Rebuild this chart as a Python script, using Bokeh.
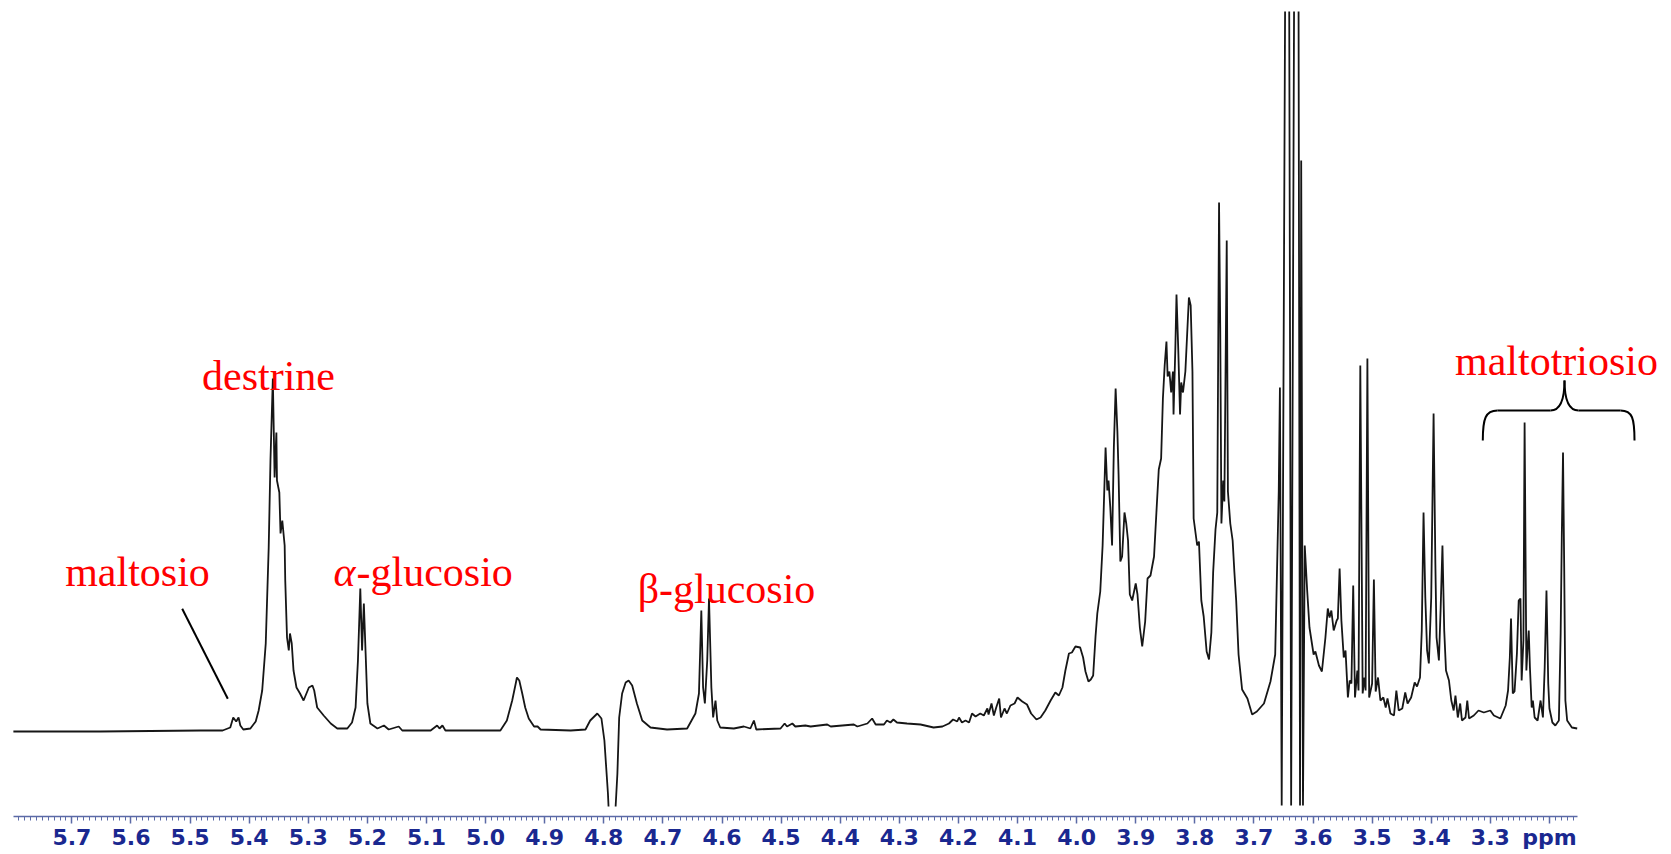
from bokeh.plotting import figure
from bokeh.models import Range1d, FixedTicker, Label
from bokeh.embed import file_html
from bokeh.resources import INLINE

NaN = float("nan")

# ---------------- data ----------------
# chemical shift (ppm) and signal intensity (arbitrary units, baseline = 0)
# NaN marks the part of the water signal that is clipped off in the original
ppm = [
    5.799, 5.652, 5.482, 5.445, 5.432, 5.427, 5.422, 5.418, 5.415, 5.410,
    5.398, 5.389, 5.384, 5.378, 5.372, 5.367, 5.364, 5.360, 5.357, 5.354,
    5.353, 5.349, 5.347, 5.344, 5.340, 5.339, 5.336, 5.333, 5.331, 5.328,
    5.325, 5.320, 5.314, 5.308, 5.299, 5.293, 5.290, 5.285, 5.274, 5.262,
    5.251, 5.234, 5.226, 5.220, 5.216, 5.212, 5.209, 5.206, 5.203, 5.200,
    5.195, 5.183, 5.172, 5.164, 5.147, 5.141, 5.093, 5.082, 5.078, 5.073,
    5.068, 4.975, 4.964, 4.955, 4.949, 4.947, 4.943, 4.938, 4.933, 4.927,
    4.918, 4.912, 4.907, 4.856, 4.831, 4.823, 4.811, 4.804, 4.799, 4.793,
    4.792, 4.786, 4.780, 4.777, 4.774, 4.769, 4.763, 4.758, 4.752, 4.744, 4.735,
    4.721, 4.693, 4.659, 4.645, 4.639, 4.635, 4.632, 4.629, 4.625, 4.622,
    4.618, 4.615, 4.611, 4.608, 4.603, 4.580, 4.563, 4.552, 4.546, 4.542,
    4.501, 4.494, 4.490, 4.481, 4.476, 4.459, 4.450, 4.422, 4.416, 4.377,
    4.371, 4.354, 4.346, 4.340, 4.326, 4.321, 4.315, 4.310, 4.304, 4.287,
    4.264, 4.242, 4.227, 4.216, 4.209, 4.202, 4.199, 4.194, 4.188, 4.182,
    4.177, 4.171, 4.163, 4.157, 4.151, 4.149, 4.144, 4.140, 4.136, 4.131,
    4.128, 4.122, 4.118, 4.112, 4.105, 4.100, 4.092, 4.084, 4.077, 4.068,
    4.061, 4.053, 4.044, 4.036, 4.030, 4.024, 4.019, 4.013, 4.008, 4.002,
    3.994, 3.989, 3.985, 3.980, 3.976, 3.972, 3.968, 3.965, 3.960, 3.956,
    3.951, 3.948, 3.946, 3.943, 3.940, 3.937, 3.934, 3.931, 3.929, 3.926,
    3.923, 3.919, 3.916, 3.913, 3.910, 3.906, 3.900, 3.897, 3.893, 3.889,
    3.884, 3.880, 3.875, 3.869, 3.865, 3.861, 3.857, 3.854, 3.851, 3.848,
    3.846, 3.843, 3.840, 3.837, 3.836, 3.833, 3.831, 3.828, 3.825, 3.823,
    3.820, 3.816, 3.810, 3.807, 3.804, 3.802, 3.796, 3.793, 3.789, 3.785,
    3.780, 3.776, 3.772, 3.769, 3.765, 3.762, 3.759, 3.757, 3.755, 3.752,
    3.750, 3.746, 3.744, 3.740, 3.736, 3.733, 3.730, 3.726, 3.720, 3.711,
    3.703, 3.695, 3.683, 3.672, 3.664, 3.658, 3.656, 3.653, 3.646, 3.641,
    3.637, 3.631, 3.625, 3.622, 3.620, 3.617, 3.614, 3.610, 3.606, 3.599,
    3.596, 3.590, 3.585, 3.579, 3.575, 3.572, 3.569, 3.565, 3.560, 3.558,
    3.555, 3.552, 3.548, 3.545, 3.541, 3.538, 3.535, 3.532, 3.529, 3.525,
    3.523, 3.520, 3.516, 3.513, 3.511, 3.508, 3.505, 3.500, 3.497, 3.494,
    3.490, 3.486, 3.481, 3.477, 3.474, 3.469, 3.463, 3.459, 3.455, 3.449,
    3.444, 3.440, 3.434, 3.428, 3.424, 3.419, 3.416, 3.413, 3.410, 3.407,
    3.404, 3.400, 3.396, 3.393, 3.391, 3.387, 3.384, 3.381, 3.378, 3.375,
    3.370, 3.366, 3.362, 3.359, 3.355, 3.351, 3.348, 3.342, 3.339, 3.336,
    3.328, 3.320, 3.311, 3.300, 3.294, 3.283, 3.274, 3.270, 3.267, 3.265,
    3.262, 3.259, 3.255, 3.252, 3.249, 3.247, 3.244, 3.242, 3.239, 3.237,
    3.235, 3.233, 3.230, 3.228, 3.225, 3.220, 3.215, 3.211, 3.208, 3.205,
    3.202, 3.200, 3.195, 3.190, 3.184, 3.181, 3.179, 3.177, 3.175, 3.173,
    3.170, 3.162, 3.153,
]
intensity = [
    0, 0, 1, 1, 4, 14, 10, 14, 6, 2,
    3, 10, 21, 41, 88, 184, 271, 353, 254, 299,
    251, 239, 198, 211, 186, 151, 94, 81, 98, 88,
    61, 44, 38, 31, 44, 46, 41, 24, 16, 8,
    3, 3, 9, 24, 71, 143, 81, 128, 78, 28,
    8, 3, 6, 2, 5, 1, 1, 6, 3, 6,
    1, 1, 11, 31, 48, 54, 51, 38, 24, 13,
    5, 5, 2, 1, 2, 11, 18, 13, -9, -62,
    -75, NaN, -75, -42, 14, 38, 49, 51, 46, 28, 11,
    4, 2, 3, 18, 38, 121, 44, 28, 71, 133,
    44, 14, 31, 11, 4, 3, 5, 3, 11, 2,
    3, 8, 5, 8, 5, 6, 5, 7, 5, 7,
    5, 8, 13, 7, 7, 11, 9, 12, 9, 8,
    7, 4, 5, 8, 12, 10, 14, 9, 11, 9,
    18, 15, 18, 16, 23, 17, 28, 16, 24, 33,
    14, 23, 18, 26, 28, 34, 30, 27, 18, 12,
    14, 21, 31, 39, 36, 44, 61, 78, 79, 85,
    84, 74, 60, 50, 52, 56, 95, 118, 140, 186,
    284, 241, 251, 224, 186, 284, 343, 300, 257, 170,
    175, 219, 208, 191, 137, 131, 148, 137, 104, 85,
    110, 153, 156, 175, 219, 262, 273, 333, 366, 390,
    355, 360, 339, 360, 317, 382, 437, 382, 317, 349,
    339, 360, 434, 426, 360, 213, 186, 190, 131, 115,
    80, 72, 99, 159, 202, 219, 529, 404, 208, 251,
    230, 491, 240, 208, 191, 159, 131, 77, 42, 33,
    17, 20, 28, 50, 77, 240, 344, -74, 900, 900,
    -74, 900, 900, -74, 571, -74, 186, 142, 104, 77,
    80, 66, 60, 94, 123, 114, 121, 101, 111, 113,
    163, 111, 74, 81, 34, 51, 48, 146, 34, 61,
    41, 366, 38, 54, 41, 373, 34, 48, 152, 40,
    54, 31, 34, 24, 33, 18, 16, 41, 21, 23,
    39, 28, 34, 49, 45, 54, 101, 219, 134, 81,
    68, 134, 318, 168, 94, 71, 124, 186, 101, 61,
    51, 31, 21, 36, 14, 28, 11, 14, 31, 13,
    16, 21, 19, 21, 16, 13, 26, 41, 74, 113,
    38, 40, 78, 131, 133, 51, 91, 309, 61, 84,
    101, 64, 24, 31, 14, 11, 31, 14, 64, 141,
    48, 23, 9, 6, 11, 98, 198, 279, 164, 31,
    11, 4, 3,
]

tick_values = [5.7, 5.6, 5.5, 5.4, 5.3, 5.2, 5.1, 5.0, 4.9, 4.8, 4.7, 4.6, 4.5,
               4.4, 4.3, 4.2, 4.1, 4.0, 3.9, 3.8, 3.7, 3.6, 3.5, 3.4, 3.3, 3.2]
tick_labels = ["5.7", "5.6", "5.5", "5.4", "5.3", "5.2", "5.1", "5.0", "4.9", "4.8",
               "4.7", "4.6", "4.5", "4.4", "4.3", "4.2", "4.1", "4.0", "3.9", "3.8",
               "3.7", "3.6", "3.5", "3.4", "3.3", "ppm"]

annotations = ["maltosio", "destrine", "\u03b1", "-glucosio", "\u03b2-glucosio", "maltotriosio"]

# ---------------- layout ----------------
W, H = 1671, 854
AX_LEFT_PX, AX_RIGHT_PX = 13, 1577          # where the ppm axis is drawn
PPM_LEFT, PPM_RIGHT = 5.7988, 3.1525        # spectral window
TOP_PX, BOTTOM_PX = 11, 816                 # frame top / axis line
BASE_PX = 731                               # baseline row
px_per_ppm = (AX_RIGHT_PX - AX_LEFT_PX) / (PPM_LEFT - PPM_RIGHT)
x_start = PPM_LEFT + AX_LEFT_PX / px_per_ppm
x_end = PPM_RIGHT - (W - AX_RIGHT_PX) / px_per_ppm
y_top = BASE_PX - TOP_PX
y_bottom = BASE_PX - BOTTOM_PX


def X(px):
    return x_start - px / px_per_ppm


def Y(py):
    return BASE_PX - py


p = figure(width=W, height=H, x_range=Range1d(x_start, x_end),
           y_range=Range1d(y_bottom, y_top), output_backend="svg",
           toolbar_location=None, y_axis_location=None,
           min_border_left=0, min_border_right=0,
           min_border_top=TOP_PX, min_border_bottom=H - BOTTOM_PX)
p.outline_line_color = None
p.grid.visible = False
p.background_fill_color = "white"
p.border_fill_color = "white"

ax = p.xaxis[0]
minor = [round(3.16 + 0.01 * i, 2) for i in range(0, 264)]
ax.ticker = FixedTicker(ticks=tick_values, minor_ticks=minor)
ax.major_label_overrides = dict(zip(tick_values, tick_labels))
ax.bounds = (PPM_RIGHT, PPM_LEFT)
axis_col = "#5b6aa6"
ax.axis_line_color = axis_col
ax.axis_line_width = 1.5
ax.major_tick_line_color = axis_col
ax.minor_tick_line_color = axis_col
ax.major_tick_line_width = 1.5
ax.minor_tick_line_width = 1
ax.major_tick_in = 0
ax.major_tick_out = 7
ax.minor_tick_in = 0
ax.minor_tick_out = 4
ax.major_label_text_font = "DejaVu Sans"
ax.major_label_text_font_style = "bold"
ax.major_label_text_font_size = "22px"
ax.major_label_text_color = "#1a2890"
ax.major_label_standoff = 1

# spectrum
p.line(ppm, intensity, line_color="#161616", line_width=1.8)

# leader line for maltosio
p.segment(x0=[X(181.7)], y0=[Y(608.3)], x1=[X(227.3)], y1=[Y(698.3)],
          line_color="black", line_width=2)

# brace over maltotriosio signals
bz = dict(line_color="black", line_width=2)
p.bezier(x0=[X(1482.3)], y0=[Y(440)], x1=[X(1497)], y1=[Y(410)],
         cx0=[X(1482.3)], cy0=[Y(418)], cx1=[X(1485)], cy1=[Y(410)], **bz)
p.segment(x0=[X(1497)], y0=[Y(410)], x1=[X(1550)], y1=[Y(410)], **bz)
p.bezier(x0=[X(1550)], y0=[Y(410)], x1=[X(1564)], y1=[Y(380)],
         cx0=[X(1560)], cy0=[Y(410)], cx1=[X(1564)], cy1=[Y(400)], **bz)
p.bezier(x0=[X(1564)], y0=[Y(380)], x1=[X(1578)], y1=[Y(410)],
         cx0=[X(1564)], cy0=[Y(400)], cx1=[X(1568)], cy1=[Y(410)], **bz)
p.segment(x0=[X(1578)], y0=[Y(410)], x1=[X(1620)], y1=[Y(410)], **bz)
p.bezier(x0=[X(1620)], y0=[Y(410)], x1=[X(1634)], y1=[Y(440)],
         cx0=[X(1632)], cy0=[Y(410)], cx1=[X(1634)], cy1=[Y(418)], **bz)

# red labels
lab = dict(text_font="Liberation Serif", text_font_size="42px", text_color="#ff0000",
           text_baseline="alphabetic")
p.add_layout(Label(x=X(137), y=Y(571), text=annotations[0], text_align="center", **lab))
p.add_layout(Label(x=X(268), y=Y(375), text=annotations[1], text_align="center", **lab))
p.add_layout(Label(x=X(333), y=Y(571), text=annotations[2], text_align="left",
                   text_font_style="italic", **lab))
p.add_layout(Label(x=X(356), y=Y(571), text=annotations[3], text_align="left", **lab))
p.add_layout(Label(x=X(726), y=Y(588), text=annotations[4], text_align="center", **lab))
p.add_layout(Label(x=X(1556), y=Y(360), text=annotations[5], text_align="center", **lab))

open("out.html", "w").write(file_html(p, INLINE))
